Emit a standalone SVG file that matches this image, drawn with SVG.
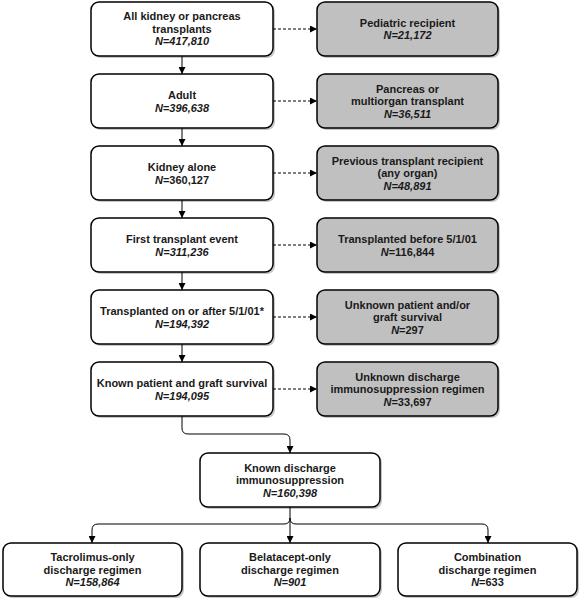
<svg xmlns="http://www.w3.org/2000/svg" width="582" height="601" viewBox="0 0 582 601">
<style>
.box{fill:#fff;stroke:#000;stroke-width:1.5}
.gray{fill:#c0c0c0}
.sh{fill:#000;opacity:0.22;stroke:none}
text{font-family:"Liberation Sans",Arial,sans-serif;font-size:11px;font-weight:bold;fill:#1a1a1a;text-anchor:middle}
.it{font-style:italic}
.ln{fill:none;stroke:#000;stroke-width:1}
.dash{stroke-dasharray:3,2}
</style>
<defs>
<marker id="ah" viewBox="0 0 10 10" refX="10" refY="5" markerWidth="7" markerHeight="7" markerUnits="userSpaceOnUse" orient="auto">
<path d="M0,0 L10,5 L0,10 z" fill="#000"/>
</marker>
</defs>
<g id="connectors">
<path class="ln" d="M182,56 V74" marker-end="url(#ah)"/>
<path class="ln" d="M182,128 V146" marker-end="url(#ah)"/>
<path class="ln" d="M182,200 V218" marker-end="url(#ah)"/>
<path class="ln" d="M182,272 V290" marker-end="url(#ah)"/>
<path class="ln" d="M182,344 V362" marker-end="url(#ah)"/>
<path class="ln" d="M182,416 V428 Q182,434 188,434 H284 Q290,434 290,440 V453" marker-end="url(#ah)"/>
<path class="ln dash" d="M273,29 H317" marker-end="url(#ah)"/>
<path class="ln dash" d="M273,101 H317" marker-end="url(#ah)"/>
<path class="ln dash" d="M273,173 H317" marker-end="url(#ah)"/>
<path class="ln dash" d="M273,245 H317" marker-end="url(#ah)"/>
<path class="ln dash" d="M273,317 H317" marker-end="url(#ah)"/>
<path class="ln dash" d="M273,389 H317" marker-end="url(#ah)"/>
<path class="ln" d="M290,507 V543" marker-end="url(#ah)"/>
<path class="ln" d="M284,524 H98 Q92,524 92,530 V543" marker-end="url(#ah)"/>
<path class="ln" d="M296,524 H482 Q488,524 488,530 V543" marker-end="url(#ah)"/>
<path class="ln" d="M284,524 Q290,524 290,518"/>
<path class="ln" d="M296,524 Q290,524 290,518"/>
</g>
<g id="n1"><rect class="sh" x="93" y="4" width="182" height="54" rx="8"/><rect class="box" x="91" y="2" width="182" height="54" rx="8"/>
<text x="182" y="20">All kidney or pancreas</text><text x="182" y="32.5">transplants</text><text x="182" y="45" class="it">N=417,810</text></g>
<g id="n2"><rect class="sh" x="93" y="76" width="182" height="54" rx="8"/><rect class="box" x="91" y="74" width="182" height="54" rx="8"/>
<text x="182" y="99">Adult</text><text x="182" y="111.5" class="it">N=396,638</text></g>
<g id="n3"><rect class="sh" x="93" y="148" width="182" height="54" rx="8"/><rect class="box" x="91" y="146" width="182" height="54" rx="8"/>
<text x="182" y="171">Kidney alone</text><text x="182" y="183.5"><tspan class="it">N</tspan>=360,127</text></g>
<g id="n4"><rect class="sh" x="93" y="220" width="182" height="54" rx="8"/><rect class="box" x="91" y="218" width="182" height="54" rx="8"/>
<text x="182" y="243">First transplant event</text><text x="182" y="255.5" class="it">N=311,236</text></g>
<g id="n5"><rect class="sh" x="93" y="292" width="182" height="54" rx="8"/><rect class="box" x="91" y="290" width="182" height="54" rx="8"/>
<text x="182" y="315">Transplanted on or after 5/1/01*</text><text x="182" y="327.5" class="it">N=194,392</text></g>
<g id="n6"><rect class="sh" x="93" y="364" width="182" height="54" rx="8"/><rect class="box" x="91" y="362" width="182" height="54" rx="8"/>
<text x="182" y="387">Known patient and graft survival</text><text x="182" y="399.5" class="it">N=194,095</text></g>
<g id="r1"><rect class="sh" x="319" y="4" width="181" height="54" rx="8"/><rect class="box gray" x="317" y="2" width="181" height="54" rx="8"/>
<text x="407.5" y="27">Pediatric recipient</text><text x="407.5" y="39" class="it">N=21,172</text></g>
<g id="r2"><rect class="sh" x="319" y="76" width="181" height="54" rx="8"/><rect class="box gray" x="317" y="74" width="181" height="54" rx="8"/>
<text x="407.5" y="92.5">Pancreas or</text><text x="407.5" y="105">multiorgan transplant</text><text x="407.5" y="117.5" class="it">N=36,511</text></g>
<g id="r3"><rect class="sh" x="319" y="148" width="181" height="54" rx="8"/><rect class="box gray" x="317" y="146" width="181" height="54" rx="8"/>
<text x="407.5" y="164.5">Previous transplant recipient</text><text x="407.5" y="177">(any organ)</text><text x="407.5" y="189.5" class="it">N=48,891</text></g>
<g id="r4"><rect class="sh" x="319" y="220" width="181" height="54" rx="8"/><rect class="box gray" x="317" y="218" width="181" height="54" rx="8"/>
<text x="407.5" y="243">Transplanted before 5/1/01</text><text x="407.5" y="255.5"><tspan class="it">N</tspan>=116,844</text></g>
<g id="r5"><rect class="sh" x="319" y="292" width="181" height="54" rx="8"/><rect class="box gray" x="317" y="290" width="181" height="54" rx="8"/>
<text x="407.5" y="308.5">Unknown patient and/or</text><text x="407.5" y="321">graft survival</text><text x="407.5" y="333.5"><tspan class="it">N</tspan>=297</text></g>
<g id="r6"><rect class="sh" x="319" y="364" width="181" height="54" rx="8"/><rect class="box gray" x="317" y="362" width="181" height="54" rx="8"/>
<text x="407.5" y="380.5">Unknown discharge</text><text x="407.5" y="393">immunosuppression regimen</text><text x="407.5" y="405.5"><tspan class="it">N</tspan>=33,697</text></g>
<g id="c1"><rect class="sh" x="202" y="455" width="180" height="54" rx="8"/><rect class="box" x="200" y="453" width="180" height="54" rx="8"/>
<text x="290" y="471.5">Known discharge</text><text x="290" y="484">immunosuppression</text><text x="290" y="496.5" class="it">N=160,398</text></g>
<g id="b1"><rect class="sh" x="5" y="545" width="179" height="53" rx="8"/><rect class="box" x="3" y="543" width="179" height="53" rx="8"/>
<text x="92.5" y="561">Tacrolimus-only</text><text x="92.5" y="573.5">discharge regimen</text><text x="92.5" y="586" class="it">N=158,864</text></g>
<g id="b2"><rect class="sh" x="202" y="545" width="180" height="53" rx="8"/><rect class="box" x="200" y="543" width="180" height="53" rx="8"/>
<text x="290" y="561">Belatacept-only</text><text x="290" y="573.5">discharge regimen</text><text x="290" y="586" class="it">N=901</text></g>
<g id="b3"><rect class="sh" x="400" y="545" width="179" height="53" rx="8"/><rect class="box" x="398" y="543" width="179" height="53" rx="8"/>
<text x="487.5" y="561">Combination</text><text x="487.5" y="573.5">discharge regimen</text><text x="487.5" y="586"><tspan class="it">N</tspan>=633</text></g>
</svg>
